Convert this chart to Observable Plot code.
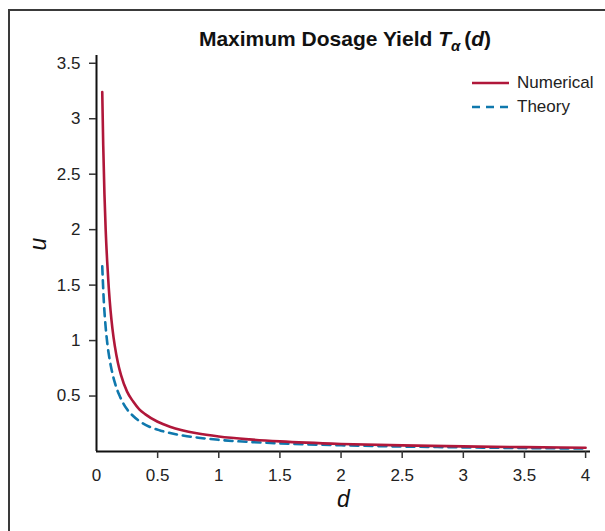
<!DOCTYPE html>
<html>
<head>
<meta charset="utf-8">
<script src="https://cdn.jsdelivr.net/npm/d3@7"></script>
<script src="https://cdn.jsdelivr.net/npm/@observablehq/plot@0.6"></script>
<style>
  html, body { margin: 0; padding: 0; background: #fff; overflow: hidden; }
  #wrap { position: relative; width: 605px; height: 531px; overflow: hidden; font-family: "Liberation Sans", Arial, sans-serif; }
  #frame { position: absolute; left: 8px; top: 9px; width: 700px; height: 600px; border-left: 2px solid #3a3a3a; border-top: 2px solid #3a3a3a; }
  #chart { position: absolute; left: 0; top: 0; }
  #chart [aria-label$="tick label"] { font-size: 17px; }
  #chart [aria-label$="tick label"] text { font-size: 17px; }
  #title { position: absolute; left: 0; top: 27px; width: 690px; text-align: center; font-weight: bold; font-size: 21px; line-height: 24px; color: #111; white-space: nowrap; }
  #title sub { line-height: 0; font-size: 15px; margin-right: 4px; }
  #legend { position: absolute; left: 472px; top: 71px; font-size: 17px; color: #222; }
  #legend .row { display: flex; align-items: center; height: 24px; }
  #legend svg { margin-right: 8px; }
</style>
</head>
<body>
<div id="wrap">
  <div id="frame"></div>
  <div id="chart"></div>
  <div id="title">Maximum Dosage Yield <i>T</i><sub><i>α</i></sub>(<i>d</i>)</div>
  <div id="legend"></div>
</div>
<script>
// Series: Numerical (solid red)
const numericalD = [0.047, 0.055, 0.065, 0.075, 0.0875, 0.1, 0.115, 0.13, 0.15, 0.175, 0.2, 0.25, 0.3, 0.35, 0.4, 0.5, 0.6, 0.7, 0.82, 1.0, 1.25, 1.5, 2.0, 2.5, 3.0, 3.5, 4.0];
const numericalU = [3.24, 2.76, 2.32, 2.0, 1.71, 1.48, 1.27, 1.11, 0.95, 0.8, 0.69, 0.54, 0.45, 0.38, 0.335, 0.268, 0.224, 0.192, 0.164, 0.135, 0.109, 0.091, 0.068, 0.055, 0.046, 0.039, 0.034];
// Series: Theory (dashed blue)
const theoryD = [0.047, 0.06, 0.075, 0.09, 0.1, 0.123, 0.15, 0.19, 0.25, 0.3, 0.355, 0.44, 0.52, 0.62, 0.74, 0.85, 1.0, 1.25, 1.5, 2.0, 2.5, 3.0, 3.5, 4.0];
const theoryU = [1.67, 1.35, 1.12, 0.96, 0.88, 0.74, 0.62, 0.5, 0.38, 0.32, 0.27, 0.22, 0.19, 0.162, 0.138, 0.122, 0.105, 0.086, 0.073, 0.056, 0.045, 0.037, 0.031, 0.027];

const seriesNames = ["Numerical", "Theory"];
const seriesColors = ["#b0173a", "#0f78ad"];

const xTicks = [0, 0.5, 1, 1.5, 2, 2.5, 3, 3.5, 4];
const yTicks = [0.5, 1, 1.5, 2, 2.5, 3, 3.5];
const xLabel = "d";
const yLabel = "u";

const numerical = numericalD.map((d, i) => ({d, u: numericalU[i]}));
const theory = theoryD.map((d, i) => ({d, u: theoryU[i]}));

const chart = Plot.plot({
  width: 605,
  height: 531,
  marginLeft: 96,
  marginRight: 15,
  marginTop: 55,
  marginBottom: 80,
  x: {domain: [0, 4.04]},
  y: {domain: [0, 3.57]},
  style: {fontFamily: "'Liberation Sans', Arial, sans-serif", fontSize: "17px", color: "#222", background: "transparent", overflow: "visible"},
  marks: [
    Plot.line(theory, {x: "d", y: "u", stroke: seriesColors[1], strokeWidth: 2.6, strokeDasharray: "8,6", curve: "monotone-x"}),
    Plot.line(numerical, {x: "d", y: "u", stroke: seriesColors[0], strokeWidth: 2.6, curve: "monotone-x"}),
    Plot.ruleY([0], {stroke: "#111", strokeWidth: 2}),
    Plot.ruleX([0], {stroke: "#111", strokeWidth: 2}),
    Plot.axisX({ticks: xTicks.filter(t => t > 0), tickSize: 7, text: null, label: null, stroke: "#333", strokeWidth: 1.5}),
    Plot.axisX({ticks: xTicks, tickSize: 0, tickPadding: 17, tickFormat: d => String(d), label: null, fill: "#222", fontSize: 17}),
    Plot.axisY({ticks: yTicks, tickSize: 7, tickPadding: 9, tickFormat: d => String(d), label: null, stroke: "#333", strokeWidth: 1.5, fill: "#222", fontSize: 17}),
    Plot.text([xLabel], {frameAnchor: "bottom", dy: 55, fontSize: 23, fontStyle: "italic", fill: "#111"}),
    Plot.text([yLabel], {frameAnchor: "left", dx: -58, dy: -3, rotate: -90, fontSize: 23, fontStyle: "italic", fill: "#111"})
  ]
});
document.getElementById("chart").appendChild(chart);

// Legend
const legend = document.getElementById("legend");
seriesNames.forEach((name, i) => {
  const row = document.createElement("div");
  row.className = "row";
  const dash = i === 1 ? ' stroke-dasharray="8,6"' : '';
  row.innerHTML = `<svg width="37" height="6"><line x1="0" x2="37" y1="3" y2="3" stroke="${seriesColors[i]}" stroke-width="2.6"${dash}/></svg><span>${name}</span>`;
  legend.appendChild(row);
});
</script>
</body>
</html>
